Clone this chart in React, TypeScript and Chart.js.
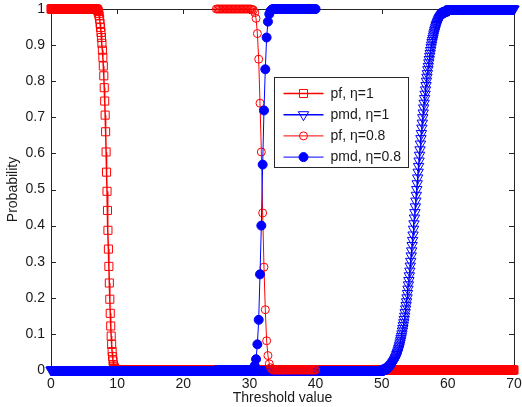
import React, { useEffect, useRef } from 'react';
import { Chart, registerables } from 'chart.js';
import { drawPoint } from 'chart.js/helpers';

Chart.register(...registerables);

// ---- axis ticks ----
const xTicks = [0, 10, 20, 30, 40, 50, 60, 70];
const yTicks = [0, 0.1, 0.2, 0.3, 0.4, 0.5, 0.6, 0.7, 0.8, 0.9, 1];
const yTickLabels = ['0', '0.1', '0.2', '0.3', '0.4', '0.5', '0.6', '0.7', '0.8', '0.9', '1'];

// ---- series labels ----
const seriesLabels = ['pf, \u03b7=1', 'pmd, \u03b7=1', 'pf, \u03b7=0.8', 'pmd, \u03b7=0.8'];

// ---- threshold grids ----
const eta1Range = [0, 70];
const eta1Step = 0.07;
const eta08Range = [25, 40];
const eta08Step = 0.2;

// ---- pf, eta=1 : 1 before the drop, then these values from x=6.93, then 0 ----
const pf1Head = 1;
const pf1TailValue = 0;
const pf1DropStart = 6.93;
const pf1Drop = [
  0.999, 0.998, 0.996, 0.993, 0.988, 0.981, 0.972, 0.960, 0.949, 0.935,
  0.921, 0.905, 0.886, 0.866, 0.842, 0.815, 0.782, 0.745, 0.706, 0.660,
  0.604, 0.548, 0.495, 0.442, 0.387, 0.335, 0.287, 0.241, 0.196, 0.157,
  0.122, 0.094, 0.071, 0.051, 0.037, 0.025, 0.014, 0.009, 0.005, 0.003,
  0.002, 0.001,
];

// ---- pmd, eta=1 : 0 before the rise, then these values from x=50.4, then 1 ----
const pmd1Head = 0;
const pmd1TailValue = 1;
const pmd1RiseStart = 50.4;
const pmd1Rise = [
  0.003, 0.003, 0.003, 0.004, 0.004, 0.005, 0.005, 0.006, 0.007, 0.007,
  0.008, 0.009, 0.010, 0.011, 0.013, 0.014, 0.015, 0.017, 0.019, 0.021,
  0.023, 0.025, 0.027, 0.030, 0.033, 0.036, 0.039, 0.043, 0.047, 0.050,
  0.055, 0.059, 0.064, 0.069, 0.075, 0.081, 0.087, 0.093, 0.100, 0.108,
  0.115, 0.123, 0.131, 0.140, 0.149, 0.159, 0.169, 0.179, 0.189, 0.200,
  0.212, 0.224, 0.236, 0.248, 0.261, 0.274, 0.288, 0.301, 0.316, 0.330,
  0.345, 0.359, 0.374, 0.390, 0.405, 0.421, 0.436, 0.452, 0.468, 0.484,
  0.500, 0.516, 0.532, 0.548, 0.564, 0.579, 0.595, 0.610, 0.626, 0.641,
  0.655, 0.670, 0.684, 0.699, 0.712, 0.726, 0.739, 0.752, 0.764, 0.776,
  0.788, 0.800, 0.811, 0.821, 0.832, 0.841, 0.851, 0.860, 0.869, 0.877,
  0.885, 0.893, 0.900, 0.907, 0.913, 0.919, 0.925, 0.931, 0.936, 0.941,
  0.945, 0.950, 0.954, 0.957, 0.961, 0.964, 0.967, 0.970, 0.973, 0.975,
  0.977, 0.979, 0.981, 0.983, 0.985, 0.986, 0.988, 0.989, 0.990, 0.991,
  0.992, 0.993, 0.993, 0.994, 0.995, 0.995, 0.996, 0.996, 0.997, 0.997,
  0.997,
];

// ---- pf, eta=0.8 ----
const pf08Head = 1;
const pf08TailValue = 0;
const pf08DropStart = 30.4;
const pf08Drop = [
  0.999, 0.997, 0.990, 0.974, 0.932, 0.861, 0.739, 0.604, 0.435, 0.285,
  0.167, 0.081, 0.040, 0.017, 0.006, 0.002,
];

// ---- pmd, eta=0.8 ----
const pmd08Head = 0;
const pmd08TailValue = 1;
const pmd08RiseStart = 30.4;
const pmd08Rise = [
  0.001, 0.004, 0.012, 0.030, 0.071, 0.139, 0.265, 0.400, 0.569, 0.719,
  0.833, 0.921, 0.965, 0.986, 0.995, 0.999,
];

type Pt = { x: number; y: number };

function buildSeries(
  range: number[],
  step: number,
  head: number,
  changeStart: number,
  change: number[],
  tail: number
): Pt[] {
  const pts: Pt[] = [];
  const n = Math.round((range[1] - range[0]) / step);
  const startIdx = Math.round((changeStart - range[0]) / step);
  for (let i = 0; i <= n; i++) {
    const x = +(range[0] + i * step).toFixed(4);
    const k = i - startIdx;
    const y = k < 0 ? head : k < change.length ? change[k] : tail;
    pts.push({ x, y });
  }
  return pts;
}

const RED = '#ff0000';
const BLUE = '#0000ff';
const TEXT = '#1a1a1a';
const AXIS = '#262626';
const FONT = '"Liberation Sans", Arial, Helvetica, sans-serif';

const styles = [
  { color: RED, lineWidth: 1.5, pointStyle: 'rect', radius: 5.7, rotation: 0, fill: 'rgba(0,0,0,0)' },
  { color: BLUE, lineWidth: 1.5, pointStyle: 'triangle', radius: 6, rotation: 180, fill: 'rgba(0,0,0,0)' },
  { color: RED, lineWidth: 1, pointStyle: 'circle', radius: 4, rotation: 0, fill: 'rgba(0,0,0,0)' },
  { color: BLUE, lineWidth: 1, pointStyle: 'circle', radius: 4.5, rotation: 0, fill: BLUE },
];

const frameAndTicks = {
  id: 'frameAndTicks',
  beforeDatasetsDraw(chart: any) {
    const { ctx, chartArea, scales } = chart;
    const { left, right, top, bottom } = chartArea;
    ctx.save();
    ctx.strokeStyle = AXIS;
    ctx.lineWidth = 1;
    ctx.strokeRect(Math.round(left) + 0.5, Math.round(top) + 0.5, Math.round(right - left), Math.round(bottom - top));
    const tl = 5;
    ctx.beginPath();
    xTicks.forEach((v) => {
      const px = Math.round(scales.x.getPixelForValue(v)) + 0.5;
      ctx.moveTo(px, bottom);
      ctx.lineTo(px, bottom - tl);
      ctx.moveTo(px, top);
      ctx.lineTo(px, top + tl);
    });
    yTicks.forEach((v) => {
      const py = Math.round(scales.y.getPixelForValue(v)) + 0.5;
      ctx.moveTo(left, py);
      ctx.lineTo(left + tl, py);
      ctx.moveTo(right, py);
      ctx.lineTo(right - tl, py);
    });
    ctx.stroke();
    ctx.restore();
  },
};

const insideLegend = {
  id: 'insideLegend',
  afterDatasetsDraw(chart: any) {
    const { ctx, chartArea } = chart;
    const bx = Math.round(chartArea.left + 223) + 0.5;
    const by = Math.round(chartArea.top + 68) + 0.5;
    const bw = 134;
    const bh = 90;
    ctx.save();
    ctx.fillStyle = '#ffffff';
    ctx.fillRect(bx, by, bw, bh);
    ctx.strokeStyle = AXIS;
    ctx.lineWidth = 1;
    ctx.strokeRect(bx, by, bw, bh);
    ctx.font = `14px ${FONT}`;
    ctx.textBaseline = 'middle';
    ctx.textAlign = 'left';
    seriesLabels.forEach((label, i) => {
      const s = styles[i];
      const y = by + 16 + i * 21.2;
      ctx.strokeStyle = s.color;
      ctx.lineWidth = s.lineWidth;
      ctx.beginPath();
      ctx.moveTo(bx + 9, y);
      ctx.lineTo(bx + 49, y);
      ctx.stroke();
      ctx.lineWidth = 1;
      ctx.fillStyle = s.fill;
      drawPoint(ctx, { pointStyle: s.pointStyle, radius: s.radius, rotation: s.rotation, borderWidth: 1 }, bx + 29, y);
      ctx.fillStyle = TEXT;
      ctx.fillText(label, bx + 56, y + 0.5);
    });
    ctx.restore();
  },
};

function clearScalePadding(scale: any) {
  scale.paddingTop = 0;
  scale.paddingBottom = 0;
  scale.paddingLeft = 0;
  scale.paddingRight = 0;
}

export default function App() {
  const canvasRef = useRef<HTMLCanvasElement | null>(null);

  useEffect(() => {
    const canvas = canvasRef.current;
    if (!canvas) return;

    const seriesData = [
      buildSeries(eta1Range, eta1Step, pf1Head, pf1DropStart, pf1Drop, pf1TailValue),
      buildSeries(eta1Range, eta1Step, pmd1Head, pmd1RiseStart, pmd1Rise, pmd1TailValue),
      buildSeries(eta08Range, eta08Step, pf08Head, pf08DropStart, pf08Drop, pf08TailValue),
      buildSeries(eta08Range, eta08Step, pmd08Head, pmd08RiseStart, pmd08Rise, pmd08TailValue),
    ];

    const datasets = seriesData.map((data, i) => {
      const s = styles[i];
      return {
        label: seriesLabels[i],
        data,
        order: 4 - i,
        borderColor: s.color,
        borderWidth: s.lineWidth,
        backgroundColor: s.fill,
        pointStyle: s.pointStyle,
        pointRadius: s.radius,
        pointRotation: s.rotation,
        pointBorderColor: s.color,
        pointBackgroundColor: s.fill,
        pointBorderWidth: 1,
        pointHoverRadius: s.radius,
        showLine: true,
        fill: false,
        tension: 0,
        clip: false as any,
      };
    });

    const tickFont = { family: FONT, size: 14 };

    const chart = new Chart(canvas, {
      type: 'scatter',
      data: { datasets: datasets as any },
      options: {
        animation: false,
        responsive: false,
        maintainAspectRatio: false,
        events: [],
        layout: { padding: { left: 0, right: 8, top: 9, bottom: 0 } },
        plugins: {
          legend: { display: false },
          tooltip: { enabled: false },
        },
        scales: {
          x: {
            type: 'linear',
            min: eta1Range[0],
            max: eta1Range[1],
            afterBuildTicks: (scale: any) => {
              scale.ticks = xTicks.map((v) => ({ value: v }));
            },
            afterFit: (scale: any) => {
              scale.height = 37;
              clearScalePadding(scale);
            },
            grid: { display: false, drawTicks: false },
            border: { display: false },
            ticks: {
              autoSkip: false,
              maxRotation: 0,
              padding: 6,
              color: TEXT,
              font: tickFont,
              callback: (v: any) => String(v),
            },
            title: {
              display: true,
              text: 'Threshold value',
              color: TEXT,
              font: tickFont,
              padding: { top: 0, bottom: 0 },
            },
          },
          y: {
            type: 'linear',
            min: 0,
            max: 1,
            afterBuildTicks: (scale: any) => {
              scale.ticks = yTicks.map((v) => ({ value: v }));
            },
            afterFit: (scale: any) => {
              scale.width = 51;
              clearScalePadding(scale);
            },
            grid: { display: false, drawTicks: false },
            border: { display: false },
            ticks: {
              autoSkip: false,
              padding: 6,
              color: TEXT,
              font: tickFont,
              callback: (_v: any, idx: number) => yTickLabels[idx],
            },
            title: {
              display: true,
              text: 'Probability',
              color: TEXT,
              font: tickFont,
              padding: { top: 5, bottom: 0 },
            },
          },
        },
      },
      plugins: [frameAndTicks, insideLegend],
    });

    return () => chart.destroy();
  }, []);

  return (
    <div style={{ position: 'fixed', left: 0, top: 0, width: 522, height: 407, background: '#ffffff' }}>
      <canvas ref={canvasRef} width={522} height={407} style={{ display: 'block', width: 522, height: 407 }} />
    </div>
  );
}
